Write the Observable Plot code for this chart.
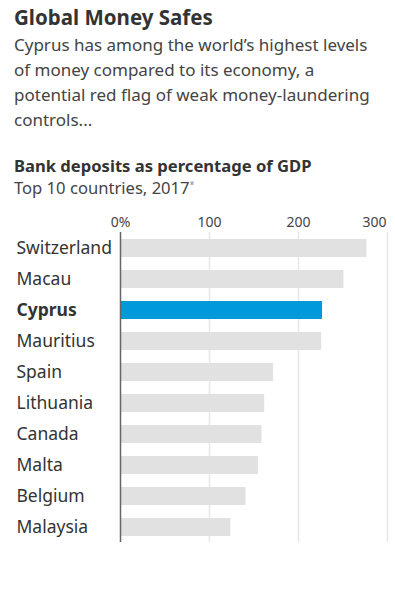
<!DOCTYPE html>
<html>
<head>
<meta charset="utf-8">
<script src="https://cdn.jsdelivr.net/npm/d3@7"></script>
<script src="https://cdn.jsdelivr.net/npm/@observablehq/plot@0.6"></script>
<style>
  html, body { margin: 0; padding: 0; background: #fff; }
  body { width: 395px; height: 592px; overflow: hidden; font-family: "Noto Sans", sans-serif; color: #333; }
  .hdr { padding: 0 0 0 14px; height: 200px; box-sizing: border-box; }
  .title { font-size: 20.5px; font-weight: 700; line-height: 24px; padding-top: 5px; color: #333; }
  .sub { font-size: 17px; line-height: 25px; color: #444; margin-top: 3px; white-space: nowrap; }
  .ctitle { font-size: 16.6px; font-weight: 700; line-height: 22px; margin-top: 23px; color: #333; }
  .csub { font-size: 16.6px; line-height: 22px; height: 22px; color: #444; margin-top: 0px; }
  .csub sup { font-size: 9px; line-height: 0; color: #888; vertical-align: 6px; }
  #chart svg { display: block; }
</style>
</head>
<body>
<div class="hdr">
  <div class="title">Global Money Safes</div>
  <div class="sub">Cyprus has among the world’s highest levels<br>of money compared to its economy, a<br>potential red flag of weak money-laundering<br>controls...</div>
  <div class="ctitle">Bank deposits as percentage of GDP</div>
  <div class="csub">Top 10 countries, 2017<sup>*</sup></div>
</div>
<div id="chart"></div>
<script>
const countries = ["Switzerland", "Macau", "Cyprus", "Mauritius", "Spain", "Lithuania", "Canada", "Malta", "Belgium", "Malaysia"];
const deposits = [277, 251, 227, 226, 172, 162, 159, 155, 141, 124];
const tickValues = [0, 100, 200, 300];
const tickLabels = ["0%", "100", "200", "300"];
const highlight = "Cyprus";

const data = countries.map((c, i) => ({country: c, value: deposits[i]}));
const ticks = tickValues.map((v, i) => ({value: v, label: tickLabels[i], last: i === tickValues.length - 1}));

const plot = Plot.plot({
  width: 395,
  height: 392,
  marginLeft: 120,
  marginRight: 8,
  marginTop: 32,
  marginBottom: 50,
  style: {fontFamily: "Noto Sans, sans-serif", background: "#fff"},
  x: {domain: [0, 300], axis: null, label: null},
  y: {domain: countries, paddingInner: 0.42, paddingOuter: 0.21, axis: null, label: null},
  marks: [
    Plot.ruleX(tickValues.filter(d => d > 0), {stroke: "#e8e8e8", strokeWidth: 1.5}),
    Plot.barX(data, {y: "country", x: "value", fill: d => d.country === highlight ? "#0099da" : "#e1e1e2"}),
    Plot.ruleX([0], {stroke: "#666", strokeWidth: 1.5}),
    Plot.text(ticks.filter(d => !d.last), {x: "value", text: "label", frameAnchor: "top", dy: -15, textAnchor: "middle", fontSize: 14, fill: "#444"}),
    Plot.text(ticks.filter(d => d.last), {x: "value", text: "label", frameAnchor: "top", dy: -15, dx: -1, textAnchor: "end", fontSize: 14, fill: "#444"}),
    Plot.text(data.filter(d => d.country !== highlight), {y: "country", text: "country", frameAnchor: "left", dx: -104, textAnchor: "start", fontSize: 17.5, fill: "#333"}),
    Plot.text(data.filter(d => d.country === highlight), {y: "country", text: "country", frameAnchor: "left", dx: -104, textAnchor: "start", fontSize: 17.5, fontWeight: 700, fill: "#333"})
  ]
});
document.getElementById("chart").appendChild(plot);
</script>
</body>
</html>
